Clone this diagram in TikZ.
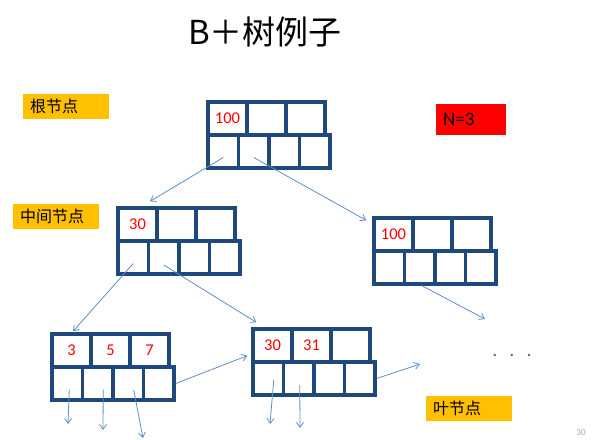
\documentclass[tikz,border=0pt]{standalone}
\usepackage{fontspec}
\setmainfont{Carlito}
\newfontfamily\cjk{Noto Sans CJK SC}
\usetikzlibrary{arrows.meta}
\definecolor{nodeBlue}{RGB}{31,73,125}
\definecolor{linkBlue}{RGB}{95,140,200}
\definecolor{tagYellow}{RGB}{255,192,0}

\begin{document}
\begin{tikzpicture}[x=1pt, y=-1pt,
    keycell/.style={draw=nodeBlue, line width=3.3pt, minimum width=39pt, minimum height=33pt, inner sep=0pt, text=red, font=\fontsize{16.5}{16.5}\selectfont},
    ptrcell/.style={draw=nodeBlue, line width=3.3pt, minimum width=30.5pt, minimum height=33pt, inner sep=0pt},
    link/.style={draw=linkBlue, line width=0.8pt, -{Straight Barb[length=5pt,width=7pt]}},
    tag/.style={fill=tagYellow, anchor=north west, minimum height=25pt, text width=72pt, inner xsep=7pt, inner ysep=0pt, font=\cjk\fontsize{16}{16}\selectfont}]
  \useasboundingbox (0,0) rectangle (601,439);

  % Title
  \node (title) at (265,32) {\cjk\fontsize{33}{33}\selectfont B＋树例子};

  % Tree nodes: name/left/top/keys
  \foreach \n/\x/\y/\ka/\kb/\kc in {root/208/102/100//, midl/118/208/30//, midr/374/218/100//, leafa/52/334/3/5/7, leafb/253/329/30/31/}{
    \foreach \k [count=\i] in {\ka,\kb,\kc}
      \node[keycell] (\n-k\i) at (\x+19.5+39*\i-39, \y+16.5) {\k};
    \foreach \i in {1,...,4}
      \node[ptrcell] (\n-p\i) at (\x+15.25+30.5*\i-30.5, \y+49.5) {};
  }

  % Labels
  \node[tag] (roottag) at (23,94) {根节点};
  \node[tag] (midtag) at (13,204) {中间节点};
  \node[tag] (leaftag) at (426,396) {叶节点};
  \node[fill=red, anchor=north west, minimum width=70pt, minimum height=31pt, text width=56pt, inner xsep=7pt, inner ysep=0pt, font=\fontsize{19}{19}\selectfont] (order) at (436,104) {N=3};
  \node[text=black!60, font=\fontsize{20}{20}\selectfont] (dots) at (512,355) {.\hspace{12pt}.\hspace{12pt}.};
  \node[text=black!35, font=\fontsize{9}{9}\selectfont] (pageno) at (581,433) {30};

  % Free ends
  \coordinate (moreA) at (485,319);
  \coordinate (moreB) at (420,364);
  \foreach \e/\ex/\ey in {a1/68/424, a2/103/430, a3/143/438, b1/270/424, b2/300/428}
    \coordinate (down-\e) at (\ex,\ey);

  % Pointers
  \draw[link] ([yshift=-6pt]root-p1.center) -- ([xshift=12.5pt,yshift=5pt]midl-k1.north);
  \draw[link] ([yshift=-6pt]root-p2.center) -- ([xshift=-6pt,yshift=-4pt]midr-k1.north west);
  \draw[link] ([yshift=-6pt]midl-p1.center) -- ([xshift=1.5pt,yshift=1pt]leafa-k1.north);
  \draw[link] ([yshift=-7.5pt]midl-p2.center) -- ([xshift=5pt,yshift=5pt]leafb-k1.north west);
  \draw[link] ([xshift=2pt]midr-p2.south) -- (moreA);
  \draw[link] (leafa-p4.east) -- ([xshift=-4pt,yshift=8pt]leafb-k1.south west);
  \draw[link] (leafb-p4.east) -- (moreB);
  \foreach \c/\e/\dx/\dy in {leafa-p1/a1/2/-6, leafa-p2/a2/5.5/-6, leafa-p3/a3/5.5/-6.5, leafb-p1/b1/5.5/-1.5, leafb-p2/b2/1/-6.5}
    \draw[link] ([xshift=\dx pt,yshift=\dy pt]\c.center) -- (down-\e);
\end{tikzpicture}
\end{document}
